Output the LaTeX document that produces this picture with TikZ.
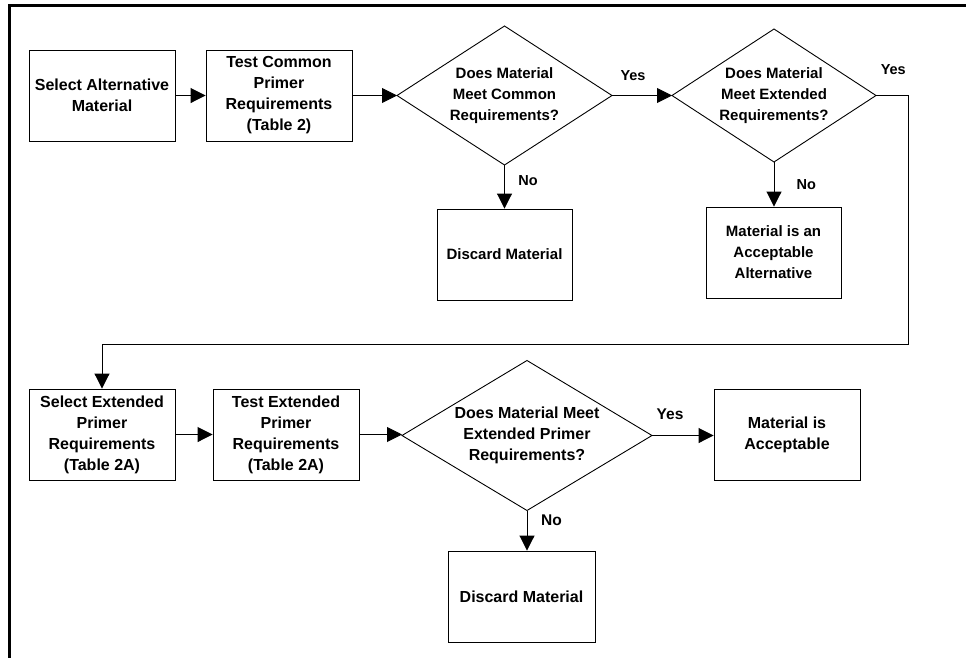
\documentclass[tikz,border=0pt]{standalone}
\usepackage{fontspec}
\setmainfont{Liberation Sans}
\usetikzlibrary{arrows.meta,shapes.geometric}
\begin{document}
\begin{tikzpicture}[x=1pt,y=-1pt,
  big/.style={font=\fontsize{16}{21}\selectfont\bfseries},
  small/.style={font=\fontsize{15}{21}\selectfont\bfseries},
  box/.style={draw,line width=0.9pt,rectangle,inner sep=0pt,minimum height=91pt,align=center},
  dia/.style={draw,line width=0.9pt,diamond,inner sep=0pt,outer sep=0pt},
  dtext/.style={align=center,inner sep=0pt},
  lab/.style={inner sep=0pt,font=\fontsize{#1}{18}\selectfont\bfseries},
  arr/.style={line width=0.9pt,-{Triangle[length=15pt,width=15pt]}},
  frame/.style={line width=2.5pt}
]
\useasboundingbox (0,0) rectangle (966,657);
\draw[frame] (9.5,660) -- (9.5,5.5) -- (970,5.5);

% top row
\node[box,big,minimum width=146pt] (b1) at (102,95.5) {Select Alternative\\Material};
\node[box,big,minimum width=146pt] (b2) at (279,95.5) {Test Common\\Primer\\Requirements\\(Table 2)};
\node[dia,minimum width=215pt,minimum height=139pt] (d1) at (504.5,95.5) {};
\node[dtext,small] (d1t) at (d1.center) {Does Material\\Meet Common\\Requirements?};
\node[dia,minimum width=204pt,minimum height=133pt] (d2) at (774,95.5) {};
\node[dtext,small] (d2t) at (d2.center) {Does Material\\Meet Extended\\Requirements?};
\node[box,small,minimum width=135pt] (disc1) at (504.5,254.5) {Discard Material};
\node[box,small,minimum width=135pt] (alt) at (773.5,252.5) {Material is an\\Acceptable\\Alternative};

% bottom row
\node[box,big,minimum width=146pt] (b4) at (102,434.5) {Select Extended\\Primer\\Requirements\\(Table 2A)};
\node[box,big,minimum width=146pt] (b5) at (286,434.5) {Test Extended\\Primer\\Requirements\\(Table 2A)};
\node[dia,minimum width=250pt,minimum height=150pt] (d3) at (527,435.5) {};
\node[dtext,big] (d3t) at (d3.center) {Does Material Meet\\Extended Primer\\Requirements?};
\node[box,big,minimum width=146pt] (acc) at (787,434.5) {Material is\\Acceptable};
\node[box,big,minimum width=147pt] (disc2) at (521.5,596.5) {Discard Material};

% labels
\node[lab=14.5] (y1) at (633,75.7) {Yes};
\node[lab=14.5] (y2) at (893.3,70) {Yes};
\node[lab=14.5] (n1) at (528,181) {No};
\node[lab=14.5] (n2) at (806.3,185) {No};
\node[lab=15.5] (y3) at (670,414.3) {Yes};
\node[lab=15.5] (n3) at (551.5,520.7) {No};

\coordinate (c1) at (908,344);

% connectors
\draw[arr] (b1.east) -- (b2.west);
\draw[arr] (b2.east) -- (d1.west);
\draw[arr] (d1.east) -- (d2.west);
\draw[arr] (d1.south) -- (d1.south |- disc1.north);
\draw[arr] (d2.south) -- (d2.south |- alt.north);
\draw[arr] (d2.east) -| (c1) -| (b4.north);
\draw[arr] (b4.east) -- (b5.west);
\draw[arr] (b5.east) -- (b5.east -| d3.west);
\draw[arr] (d3.east) -- (d3.east -| acc.west);
\draw[arr] (d3.south) -- (d3.south |- disc2.north);
\end{tikzpicture}
\end{document}
